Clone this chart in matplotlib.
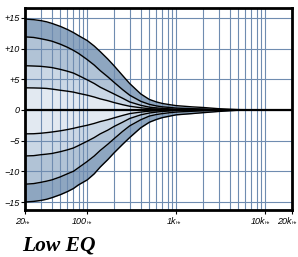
import numpy as np
from matplotlib import pyplot as plt
from matplotlib import transforms

# frequency points (Hz)
freqs = [20, 25, 30, 35, 40, 50, 60, 70, 80, 100,
         120, 140, 170, 200, 250, 300, 400, 500, 600, 700,
         850, 1000, 1500, 2000, 3000, 5000, 10000, 20000]

# boost curves (dB)
boost_15 = [14.8, 14.7, 14.55, 14.35, 14.1, 13.6, 13.1, 12.6, 12.1, 11.3,
            10.4, 9.5, 8.3, 7.2, 5.6, 4.3, 2.6, 1.7, 1.3, 1.05,
            0.85, 0.7, 0.5, 0.4, 0.2, 0.05, 0, 0]
boost_12 = [11.9, 11.8, 11.6, 11.4, 11.2, 10.7, 10.2, 9.7, 9.2, 8.2,
            7.3, 6.4, 5.4, 4.5, 3.3, 2.4, 1.4, 0.9, 0.65, 0.5,
            0.4, 0.3, 0.2, 0.15, 0.05, 0, 0, 0]
boost_7 = [7.2, 7.15, 7.1, 7.0, 6.9, 6.6, 6.3, 6.0, 5.6, 4.9,
           4.3, 3.7, 3.1, 2.6, 1.9, 1.3, 0.75, 0.45, 0.33, 0.25,
           0.17, 0.1, 0.07, 0.05, 0, 0, 0, 0]
boost_3 = [3.6, 3.58, 3.55, 3.5, 3.4, 3.2, 3.05, 2.9, 2.7, 2.4,
           2.1, 1.8, 1.5, 1.2, 0.85, 0.6, 0.35, 0.2, 0.15, 0.1,
           0.07, 0.05, 0.02, 0, 0, 0, 0, 0]

# cut curves (dB)
cut_15 = [-15.0, -14.9, -14.75, -14.55, -14.3, -13.8, -13.3, -12.8, -12.2, -11.4,
          -10.4, -9.3, -8.1, -7.0, -5.6, -4.5, -2.9, -2.0, -1.55, -1.25,
          -1.0, -0.8, -0.6, -0.45, -0.25, -0.05, 0, 0]
cut_12 = [-12.1, -12.0, -11.8, -11.6, -11.4, -10.9, -10.4, -10.0, -9.4, -8.4,
          -7.5, -6.6, -5.6, -4.7, -3.5, -2.6, -1.6, -1.0, -0.75, -0.6,
          -0.45, -0.35, -0.22, -0.15, -0.05, 0, 0, 0]
cut_7 = [-7.5, -7.45, -7.3, -7.2, -7.1, -6.8, -6.5, -6.2, -5.8, -5.1,
         -4.5, -3.9, -3.3, -2.7, -2.0, -1.4, -0.8, -0.5, -0.35, -0.25,
         -0.17, -0.1, -0.07, -0.05, 0, 0, 0, 0]
cut_3 = [-3.9, -3.88, -3.8, -3.7, -3.6, -3.4, -3.2, -3.0, -2.8, -2.5,
         -2.2, -1.9, -1.6, -1.3, -0.9, -0.6, -0.35, -0.2, -0.15, -0.1,
         -0.07, -0.05, -0.02, 0, 0, 0, 0, 0]

y_ticks = [15, 10, 5, 0, -5, -10, -15]
y_labels = ["+15", "+10", "+5", "0", "\u22125", "\u221210", "\u221215"]
x_major = [20, 100, 1000, 10000, 20000]
x_numbers = ["20", "100", "1k", "10k", "20k"]
x_minor = [30, 40, 50, 60, 70, 80, 90, 200, 300, 400, 500, 600, 700, 800, 900,
           2000, 3000, 4000, 5000, 6000, 7000, 8000, 9000]

band_colors = ["#e2e9f1", "#cad7e5", "#b1c3d6", "#8ea6c0"]
grid_color = "#6f8cb0"


def main():
    fig = plt.figure(figsize=(2.98, 2.57), dpi=100)
    ax = fig.add_axes([25 / 298, 47 / 257, 267 / 298, 202 / 257])

    ax.set_xscale("log")
    ax.set_xlim(20, 20000)
    ax.set_ylim(-16.3, 16.6)

    # shaded bands between neighbouring curves
    for curves in ([boost_3, boost_7, boost_12, boost_15], [cut_3, cut_7, cut_12, cut_15]):
        inner = [0] * len(freqs)
        for c, col in zip(curves, band_colors):
            ax.fill_between(freqs, inner, c, color=col, lw=0, zorder=1)
            inner = c

    for c in (boost_15, boost_12, boost_7, boost_3, cut_3, cut_7, cut_12, cut_15):
        ax.plot(freqs, c, color="black", lw=1.0, zorder=3)
    ax.axhline(0, color="black", lw=1.6, zorder=3)

    # grid
    ax.set_axisbelow("line")
    ax.set_xticks(x_major)
    ax.set_xticks(x_minor, minor=True)
    ax.set_xticklabels([])
    ax.set_xticklabels([], minor=True)
    ax.set_yticks(y_ticks)
    ax.set_yticklabels(y_labels, fontsize=6.5, fontstyle="italic", family="Liberation Sans")
    ax.grid(True, which="both", axis="x", color=grid_color, lw=0.8)
    ax.grid(True, which="major", axis="y", color=grid_color, lw=0.8)
    ax.tick_params(axis="y", length=3, width=0.8, pad=1)
    ax.tick_params(axis="x", which="major", length=3, width=0.8)
    ax.tick_params(axis="x", which="minor", length=0)

    for s in ax.spines.values():
        s.set_linewidth(2)
        s.set_color("black")

    # frequency labels: number + small "Hz"
    trans = transforms.blended_transform_factory(ax.transData, ax.transAxes)
    for f, num in zip(x_major, x_numbers):
        ax.text(f, -0.068, num, transform=trans, ha="right", va="baseline",
                fontsize=6.5, fontstyle="italic", family="Liberation Sans", clip_on=False)
        ax.text(f, -0.068, "Hz", transform=trans, ha="left", va="baseline",
                fontsize=3.2, fontstyle="italic", family="Liberation Sans", clip_on=False)

    fig.text(22 / 298, 1 - 251 / 257, "Low EQ", fontsize=15.5, fontweight="bold",
             fontstyle="italic", family="Liberation Serif", va="baseline", ha="left")

    fig.savefig("out.png", dpi=100)


if __name__ == '__main__':
    main()
